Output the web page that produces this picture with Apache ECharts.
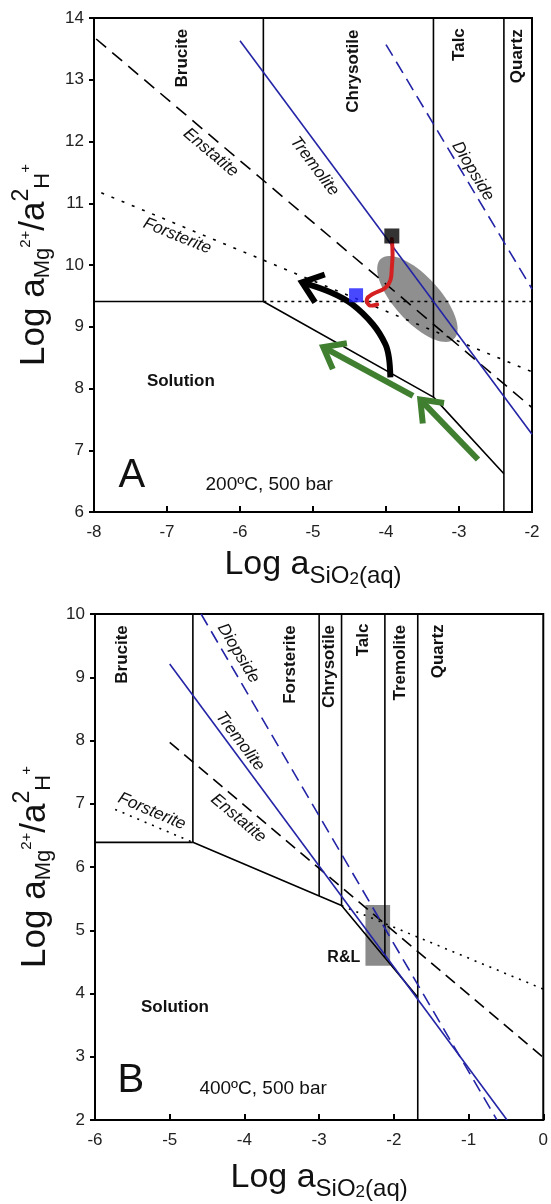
<!DOCTYPE html>
<html>
<head>
<meta charset="utf-8">
<script src="https://cdn.jsdelivr.net/npm/echarts@6/dist/echarts.min.js"></script>
<style>html,body{margin:0;padding:0;background:#fff}#c{width:551px;height:1204px}</style>
</head>
<body>
<div id="c"></div>
<script>
// ---------- Panel A (200 ºC, 500 bar) ----------
const A_bruciteChrysotile = [[-5.68, 14], [-5.68, 9.41]];
const A_solutionBrucite   = [[-8, 9.41], [-5.68, 9.41]];
const A_solutionBoundary  = [[-5.68, 9.41], [-3.35, 7.86], [-2.385, 6.62]];
const A_chrysotileTalc    = [[-3.35, 14], [-3.35, 7.86]];
const A_talcQuartz        = [[-2.385, 14], [-2.385, 6]];
const A_dottedLevel       = [[-5.68, 9.41], [-2, 9.41]];
const A_enstatite         = [[-7.97, 13.66], [-2, 7.69]];
const A_forsterite        = [[-7.9, 11.17], [-2, 8.27]];
const A_tremolite         = [[-6.0, 13.63], [-2, 7.26]];
const A_diopside          = [[-4.0, 13.57], [-2, 9.61]];
const A_ellipseCenter     = [-3.57, 9.45];
const A_ellipseEnd        = [-3.07, 8.80];
const A_blackArrow = [[-3.94, 8.18], [-3.96, 8.5], [-4.01, 8.72], [-4.18, 9.04], [-4.47, 9.37], [-4.76, 9.56], [-5.15, 9.72]];
const A_greenArrow1 = [[-3.63, 7.88], [-4.86, 8.67]];
const A_greenArrow2 = [[-2.74, 6.85], [-3.53, 7.82]];
const A_redPath = [[-3.92, 10.42], [-3.91, 10.18], [-3.92, 9.96], [-3.94, 9.75], [-4.01, 9.63], [-4.18, 9.53], [-4.26, 9.45], [-4.23, 9.35], [-4.12, 9.36]];
const A_blackSquare = [[-3.92, 10.47]];
const A_blueSquare  = [[-4.41, 9.51]];
const A_labels = [
  ['Brucite', -6.79, 13.35, 'col'],
  ['Chrysotile', -4.45, 13.14, 'col'],
  ['Talc', -3.0, 13.57, 'col'],
  ['Quartz', -2.2, 13.38, 'col'],
  ['Enstatite', -6.4, 11.82, 'it40'],
  ['Tremolite', -4.98, 11.6, 'it53'],
  ['Diopside', -2.81, 11.52, 'it59'],
  ['Forsterite', -6.86, 10.47, 'it22'],
  ['Solution', -6.81, 8.12, 'bold'],
  ['A', -7.48, 6.58, 'big'],
  ['200ºC, 500 bar', -5.6, 6.44, 'cond']
];

// ---------- Panel B (400 ºC, 500 bar) ----------
const B_bruciteDiopside  = [[-4.69, 10], [-4.69, 6.39]];
const B_solutionBrucite  = [[-6, 6.39], [-4.69, 6.39]];
const B_solutionBoundary = [[-4.69, 6.39], [-2.70, 5.39], [-1.68, 3.94]];
const B_forsteriteChrys  = [[-3.0, 10], [-3.0, 5.54]];
const B_chrysTalc        = [[-2.70, 10], [-2.70, 5.39]];
const B_talcTremolite    = [[-2.12, 10], [-2.12, 4.57]];
const B_tremoliteQuartz  = [[-1.68, 10], [-1.68, 2]];
const B_enstatite        = [[-5.0, 7.97], [0, 2.99]];
const B_forsterite1      = [[-5.73, 6.91], [-4.69, 6.39]];
const B_forsterite2      = [[-2.70, 5.39], [0, 4.07]];
const B_tremolite        = [[-5.0, 9.21], [-0.485, 2]];
const B_diopside         = [[-4.58, 10], [-0.62, 2]];
const B_rlBox            = [[-2.38, 5.40], [-2.05, 4.44]];
const B_labels = [
  ['Brucite', -5.64, 9.36, 'col'],
  ['Diopside', -4.08, 9.38, 'it59'],
  ['Forsterite', -3.38, 9.2, 'col'],
  ['Chrysotile', -2.86, 9.17, 'col'],
  ['Talc', -2.41, 9.59, 'col'],
  ['Tremolite', -1.92, 9.23, 'col'],
  ['Quartz', -1.40, 9.41, 'col'],
  ['Tremolite', -4.06, 7.99, 'it53'],
  ['Enstatite', -4.08, 6.77, 'it40'],
  ['Forsterite', -5.24, 6.88, 'it23'],
  ['Solution', -4.93, 3.78, 'bold'],
  ['R&L', -2.67, 4.56, 'boldR'],
  ['B', -5.52, 2.62, 'big'],
  ['400ºC, 500 bar', -3.75, 2.49, 'cond']
];

// ---------- styles ----------
const FONT = '"Liberation Sans", Arial, Helvetica, sans-serif';
const BLUE = '#2424a6';
const kinds = {
  col:  {rot: 90,  size: 17, weight: 'bold',   style: 'normal'},
  bold: {rot: 0,   size: 17, weight: 'bold',   style: 'normal'},
  boldR:{rot: 0,   size: 16, weight: 'bold',   style: 'normal'},
  it40: {rot: -40, size: 17, weight: 'normal', style: 'italic'},
  it53: {rot: -53, size: 17, weight: 'normal', style: 'italic'},
  it59: {rot: -59, size: 17, weight: 'normal', style: 'italic'},
  it22: {rot: -22, size: 17, weight: 'normal', style: 'italic'},
  it23: {rot: -23, size: 17, weight: 'normal', style: 'italic'},
  big:  {rot: 0,   size: 40, weight: 'normal', style: 'normal'},
  cond: {rot: 0,   size: 19, weight: 'normal', style: 'normal'}
};

function seg(data, gi, color, width, type, z) {
  return {type: 'line', xAxisIndex: gi, yAxisIndex: gi, data: data, symbol: 'none', showSymbol: false,
    silent: true, animation: false, z: z || 3,
    lineStyle: {color: color, width: width, type: type || 'solid', cap: 'butt'}};
}

function labelSeries(labels, gi) {
  return {type: 'custom', xAxisIndex: gi, yAxisIndex: gi, silent: true, animation: false, z: 10,
    data: labels.map(l => [l[1], l[2]]),
    renderItem: function (params, api) {
      const L = labels[params.dataIndex];
      const k = kinds[L[3]];
      const p = api.coord([api.value(0), api.value(1)]);
      return {type: 'text', x: p[0], y: p[1], rotation: k.rot * Math.PI / 180,
        style: {text: L[0], fontSize: k.size, fontWeight: k.weight, fontStyle: k.style, fontFamily: FONT,
          fill: '#111', align: 'center', verticalAlign: 'middle'}};
    }};
}

function arrowSeries(path, gi, color, width, z) {
  return {type: 'custom', xAxisIndex: gi, yAxisIndex: gi, silent: true, animation: false, z: z || 6,
    data: path,
    renderItem: function (params, api) {
      if (params.dataIndex !== 0) return null;
      const pts = path.map(p => api.coord(p));
      const n = pts.length;
      const tip = pts[n - 1], prev = pts[n - 2];
      const ang = Math.atan2(prev[1] - tip[1], prev[0] - tip[0]);
      const L = 24, spread = 38 * Math.PI / 180;
      const a = [tip[0] + L * Math.cos(ang + spread), tip[1] + L * Math.sin(ang + spread)];
      const b = [tip[0] + L * Math.cos(ang - spread), tip[1] + L * Math.sin(ang - spread)];
      return {type: 'group', children: [
        {type: 'polyline', shape: {points: pts, smooth: n > 2 ? 0.35 : 0},
          style: {stroke: color, lineWidth: width, fill: null, lineCap: 'butt', lineJoin: 'round'}},
        {type: 'polyline', shape: {points: [a, tip, b]},
          style: {stroke: color, lineWidth: width, fill: null, lineJoin: 'miter', lineCap: 'butt'}}
      ]};
    }};
}

function pathSeries(path, gi, color, width, z) {
  return {type: 'custom', xAxisIndex: gi, yAxisIndex: gi, silent: true, animation: false, z: z || 7,
    data: path,
    renderItem: function (params, api) {
      if (params.dataIndex !== 0) return null;
      const pts = path.map(p => api.coord(p));
      return {type: 'polyline', shape: {points: pts, smooth: 0.4},
        style: {stroke: color, lineWidth: width, fill: null, lineCap: 'round', lineJoin: 'round'}};
    }};
}

function ellipseSeries(center, end, ratio, gi) {
  return {type: 'custom', xAxisIndex: gi, yAxisIndex: gi, silent: true, animation: false, z: 1,
    data: [center],
    renderItem: function (params, api) {
      const c = api.coord(center), e = api.coord(end);
      const ux = e[0] - c[0], uy = e[1] - c[1];
      const vx = -uy * ratio, vy = ux * ratio;
      const pts = [];
      for (let i = 0; i < 72; i++) {
        const t = i / 72 * Math.PI * 2;
        pts.push([c[0] + ux * Math.cos(t) + vx * Math.sin(t), c[1] + uy * Math.cos(t) + vy * Math.sin(t)]);
      }
      return {type: 'polygon', shape: {points: pts}, style: {fill: '#8f8f8f'}};
    }};
}

function boxSeries(box, gi) {
  return {type: 'custom', xAxisIndex: gi, yAxisIndex: gi, silent: true, animation: false, z: 1,
    data: box,
    renderItem: function (params, api) {
      if (params.dataIndex !== 0) return null;
      const p1 = api.coord(box[0]), p2 = api.coord(box[1]);
      return {type: 'rect', shape: {x: Math.min(p1[0], p2[0]), y: Math.min(p1[1], p2[1]),
        width: Math.abs(p2[0] - p1[0]), height: Math.abs(p2[1] - p1[1])}, style: {fill: '#8a8a8a'}};
    }};
}

const yName = '{a|Log a}{s|Mg}{p|2+}{a|/a}{q|2}{s|H}{p|+}';
const xName = '{a|Log a}{s|SiO}{t|2}{s|(aq)}';
const yRich = {
  a: {fontSize: 35, lineHeight: 48, fontFamily: FONT, color: '#111'},
  s: {fontSize: 22, verticalAlign: 'bottom', padding: [0, 0, 4, 0], fontFamily: FONT, color: '#111'},
  p: {fontSize: 15, verticalAlign: 'top', padding: [8, 0, 0, 0], fontFamily: FONT, color: '#111'},
  q: {fontSize: 23, verticalAlign: 'top', fontFamily: FONT, color: '#111'}
};
const xRich = {
  a: {fontSize: 34, lineHeight: 46, fontFamily: FONT, color: '#111'},
  s: {fontSize: 24, verticalAlign: 'bottom', fontFamily: FONT, color: '#111'},
  t: {fontSize: 17, verticalAlign: 'bottom', padding: [0, 0, 0, 0], fontFamily: FONT, color: '#111'}
};

function xAx(gi, min, max, gap) {
  return {type: 'value', gridIndex: gi, min: min, max: max, interval: 1,
    axisLine: {onZero: false, lineStyle: {color: '#000', width: 2}},
    axisTick: {inside: true, length: 6, lineStyle: {color: '#000', width: 2}},
    axisLabel: {color: '#222', fontSize: 17, fontFamily: FONT, margin: 12},
    splitLine: {show: false},
    name: xName, nameLocation: 'middle', nameGap: gap,
    nameTextStyle: {rich: xRich, fontFamily: FONT}};
}
function yAx(gi, min, max, gap) {
  return {type: 'value', gridIndex: gi, min: min, max: max, interval: 1,
    axisLine: {onZero: false, lineStyle: {color: '#000', width: 2}},
    axisTick: {inside: false, length: 5, lineStyle: {color: '#000', width: 2}},
    axisLabel: {color: '#222', fontSize: 17, fontFamily: FONT, margin: 10},
    splitLine: {show: false},
    name: yName, nameLocation: 'middle', nameGap: gap, nameRotate: 90,
    nameTextStyle: {rich: yRich, fontFamily: FONT}};
}

const chart = echarts.init(document.getElementById('c'), null, {renderer: 'canvas'});
chart.setOption({
  animation: false,
  backgroundColor: '#fff',
  grid: [
    {left: 94, right: 19, top: 18, height: 494, show: true, borderColor: '#000', borderWidth: 2, backgroundColor: 'transparent'},
    {left: 95, right: 4, top: 614, height: 506, show: true, borderColor: '#000', borderWidth: 2, backgroundColor: 'transparent'}
  ],
  xAxis: [xAx(0, -8, -2, 30), xAx(1, -6, 0, 35)],
  yAxis: [yAx(0, 6, 14, 34), yAx(1, 2, 10, 34)],
  series: [
    ellipseSeries(A_ellipseCenter, A_ellipseEnd, 0.42, 0),
    seg(A_bruciteChrysotile, 0, '#000', 1.6),
    seg(A_solutionBrucite, 0, '#000', 1.6),
    seg(A_solutionBoundary, 0, '#000', 1.6),
    seg(A_chrysotileTalc, 0, '#000', 1.6),
    seg(A_talcQuartz, 0, '#000', 1.6),
    seg(A_dottedLevel, 0, '#000', 1.6, [3, 4]),
    seg(A_enstatite, 0, '#000', 1.6, [13, 8]),
    seg(A_forsterite, 0, '#000', 1.6, [3, 8]),
    seg(A_tremolite, 0, BLUE, 1.6),
    seg(A_diopside, 0, BLUE, 1.6, [13, 7]),
    arrowSeries(A_blackArrow, 0, '#000', 6),
    arrowSeries(A_greenArrow1, 0, '#3f7f2f', 6),
    arrowSeries(A_greenArrow2, 0, '#3f7f2f', 6),
    pathSeries(A_redPath, 0, '#d42020', 4),
    {type: 'scatter', xAxisIndex: 0, yAxisIndex: 0, data: A_blackSquare, symbol: 'rect', symbolSize: 15,
      itemStyle: {color: '#000'}, silent: true, z: 8},
    {type: 'scatter', xAxisIndex: 0, yAxisIndex: 0, data: A_blueSquare, symbol: 'rect', symbolSize: 14,
      itemStyle: {color: '#1a1aff'}, silent: true, z: 8},
    labelSeries(A_labels, 0),

    boxSeries(B_rlBox, 1),
    seg(B_bruciteDiopside, 1, '#000', 1.6),
    seg(B_solutionBrucite, 1, '#000', 1.6),
    seg(B_solutionBoundary, 1, '#000', 1.6),
    seg(B_forsteriteChrys, 1, '#000', 1.6),
    seg(B_chrysTalc, 1, '#000', 1.6),
    seg(B_talcTremolite, 1, '#000', 1.6),
    seg(B_tremoliteQuartz, 1, '#000', 1.6),
    seg(B_enstatite, 1, '#000', 1.6, [12, 7]),
    seg(B_forsterite1, 1, '#000', 1.6, [2, 6]),
    seg(B_forsterite2, 1, '#000', 1.6, [2, 6]),
    seg(B_tremolite, 1, BLUE, 1.6),
    seg(B_diopside, 1, BLUE, 1.6, [13, 7]),
    labelSeries(B_labels, 1)
  ]
});
</script>
</body>
</html>
